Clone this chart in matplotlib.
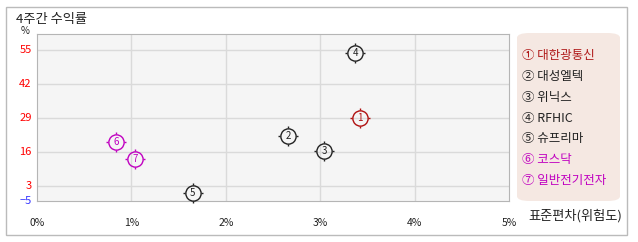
import matplotlib
matplotlib.use('Agg')
import matplotlib.pyplot as plt
from matplotlib.path import Path
from matplotlib.patches import FancyBboxPatch, Rectangle

plt.rcParams['font.family'] = ['Noto Sans CJK KR', 'DejaVu Sans']

# data
names = ['대한광통신', '대성엘텍', '위닉스', 'RFHIC', '슈프리마', '코스닥', '일반전기전자']
marks = ['①', '②', '③', '④', '⑤', '⑥', '⑦']
risk = [3.42, 2.66, 3.04, 3.37, 1.65, 0.84, 1.04]      # std dev, %
ret = [29.0, 22.1, 16.4, 53.9, 0.3, 19.8, 13.3]         # 4-week return, %
colors = ['#b01010', '#222222', '#222222', '#222222', '#222222', '#c000c0', '#c000c0']
legend_colors = ['#b01a1a', '#222222', '#222222', '#222222', '#222222', '#c000c0', '#c000c0']

yticks = [3, 16, 29, 42, 55]
xticks = [0, 1, 2, 3, 4, 5]
ymin, ymax = -2.7, 61.1

W, H = 638, 242
fig = plt.figure(figsize=(W / 100, H / 100), dpi=100)

# outer frame
fig.patches.append(Rectangle((6 / W, 1 - 235 / H), 621 / W, 228 / H,
                             transform=fig.transFigure, fill=False,
                             edgecolor='#bbbbbb', lw=1))
fig.text(16 / W, 1 - 19 / H, '4주간 수익률', fontsize=9.5, color='#222222',
         va='center', ha='left')

ax = fig.add_axes([37 / W, 1 - 201 / H, 472 / W, 167 / H])
ax.set_facecolor('#f5f5f5')
for s in ax.spines.values():
    s.set_color('#b5b5b5')
ax.set_xlim(0, 5)
ax.set_ylim(ymin, ymax)
for v in xticks[1:-1]:
    ax.axvline(v, color='#dadada', lw=1, zorder=0)
for v in yticks:
    ax.axhline(v, color='#dadada', lw=1, zorder=0)
ax.set_xticks([])
ax.set_yticks([])

# tick labels
for v in yticks:
    ax.text(-0.055, v, str(v), transform=ax.transData, ha='right', va='center',
            fontsize=8, color='#ff0000')
ax.text(-0.055, ymin, '−5', ha='right', va='center', fontsize=8, color='#3333ff')
ax.text(-0.025, 0.99, '%', transform=ax.transAxes, ha='center', va='bottom',
        fontsize=7, color='#222222')
for v in xticks:
    ax.text(v, -0.13, '%d%%' % v, transform=ax.get_xaxis_transform(),
            ha='center', va='center', fontsize=7.5, color='#222222')
fig.text(622 / W, 1 - 216 / H, '표준편차(위험도)', ha='right', va='center',
         fontsize=9.5, color='#222222')

# marker: four short ticks around a circle
tick_path = Path([(0, 1.0), (0, 1.25), (0, -1.0), (0, -1.25),
                  (1.0, 0), (1.25, 0), (-1.0, 0), (-1.25, 0)],
                 [Path.MOVETO, Path.LINETO] * 4)
for i, (x, y, c) in enumerate(zip(risk, ret, colors)):
    ax.plot(x, y, marker='o', ms=11, mfc='none', mec=c, mew=1, zorder=3,
            clip_on=False)
    ax.plot(x, y, marker=tick_path, ms=13.75, mec=c, mew=1, zorder=3,
            clip_on=False)
    ax.text(x, y, str(i + 1), ha='center', va='center',
            fontsize=7, color=c, zorder=4)

# legend box
fig.patches.append(FancyBboxPatch((517 / W, 1 - 201 / H), 103 / W, 168 / H,
                                  boxstyle='round,pad=0,rounding_size=0.02',
                                  transform=fig.transFigure,
                                  facecolor='#f5e8e2', edgecolor='none'))
for i, (m, n, c) in enumerate(zip(marks, names, legend_colors)):
    fig.text(522 / W, 1 - (56 + i * 20.7) / H, m + ' ' + n, ha='left',
             va='center', fontsize=9, color=c)

fig.savefig('out.png', dpi=100)
